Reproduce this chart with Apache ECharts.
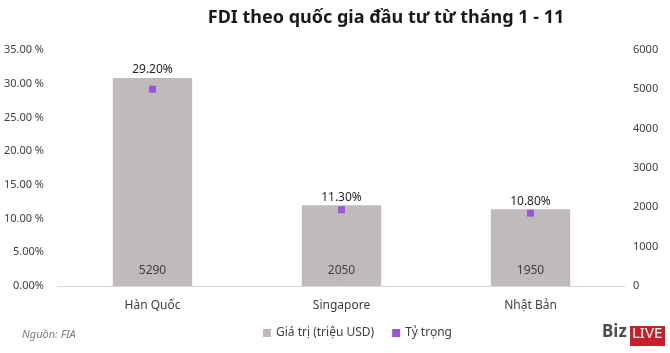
<!DOCTYPE html>
<html>
<head>
<meta charset="utf-8">
<script src="https://cdn.jsdelivr.net/npm/echarts@6/dist/echarts.min.js"></script>
<style>
  html, body { margin: 0; padding: 0; background: #fff; }
  #chart { width: 670px; height: 353px; }
</style>
</head>
<body>
<div id="chart"></div>
<script>
// dữ liệu
const countries = ['Hàn Quốc', 'Singapore', 'Nhật Bản'];
const values = [5290, 2050, 1950];          // Giá trị (triệu USD)
const shares = [29.2, 11.3, 10.8];          // Tỷ trọng (%)
const shareLabels = ['29.20%', '11.30%', '10.80%'];
const pctTicks = ['0.00%', '5.00%', '10.00 %', '15.00 %', '20.00 %', '25.00 %', '30.00 %', '35.00 %'];

const font = 'Noto Sans';
const chart = echarts.init(document.getElementById('chart'));
chart.setOption({
  textStyle: { fontFamily: font },
  title: {
    text: 'FDI theo quốc gia đầu tư từ tháng 1 - 11',
    left: 381,
    textAlign: 'center',
    top: 4,
    textStyle: { fontSize: 18, fontWeight: 'bold', color: '#1a1a1a', fontFamily: font }
  },
  grid: { left: 58, right: 45, top: 50, bottom: 67 },
  legend: {
    data: ['Giá trị (triệu USD)', 'Tỷ trọng'],
    bottom: 9,
    left: 258,
    itemWidth: 8,
    itemHeight: 8,
    itemGap: 18,
    icon: 'rect',
    textStyle: { fontSize: 12, color: '#404040', fontFamily: font }
  },
  xAxis: {
    type: 'category',
    data: countries,
    axisTick: { show: false },
    axisLine: { lineStyle: { color: '#d9d9d9' } },
    axisLabel: { color: '#404040', fontSize: 12, margin: 14 }
  },
  yAxis: [
    {
      type: 'value',
      min: 0, max: 35, interval: 5,
      splitLine: { show: false },
      axisLabel: {
        color: '#404040', fontSize: 11, margin: 14,
        formatter: (v) => pctTicks[Math.round(v / 5)]
      }
    },
    {
      type: 'value',
      min: 0, max: 6000, interval: 1000,
      splitLine: { show: false },
      axisLabel: { color: '#404040', fontSize: 11, margin: 8, formatter: (v) => String(v) }
    }
  ],
  series: [
    {
      name: 'Giá trị (triệu USD)',
      type: 'bar',
      yAxisIndex: 1,
      data: values,
      barWidth: '42%',
      itemStyle: { color: '#c0baba' },
      label: {
        show: true, position: 'top', distance: 2,
        color: '#262626', fontSize: 12,
        formatter: (p) => shareLabels[p.dataIndex]
      }
    },
    {
      name: 'value-label',
      type: 'bar',
      yAxisIndex: 1,
      data: values,
      barWidth: '42%',
      barGap: '-100%',
      itemStyle: { color: 'rgba(0,0,0,0)' },
      label: {
        show: true, position: 'insideBottom', distance: 9,
        color: '#404040', fontSize: 12
      }
    },
    {
      name: 'Tỷ trọng',
      type: 'line',
      yAxisIndex: 0,
      data: shares,
      symbol: 'rect',
      symbolSize: 7,
      lineStyle: { opacity: 0 },
      itemStyle: { color: '#9b55d6' }
    }
  ],
  graphic: [
    {
      type: 'text', left: 22, top: 329,
      style: { text: 'Nguồn: FIA', fontSize: 11, fontStyle: 'italic', fill: '#7f7f7f', fontFamily: font }
    },
    {
      type: 'text', left: 602, top: 324,
      style: { text: 'Biz', fontSize: 17, fontWeight: 'bold', fill: '#4d4d4d', fontFamily: font }
    },
    {
      type: 'rect', shape: { x: 630, y: 326, width: 35, height: 20 },
      style: { fill: '#c8202a' }
    },
    {
      type: 'text', left: 632, top: 326,
      style: { text: 'LIVE', fontSize: 15, fill: '#ffffff', fontFamily: font }
    }
  ]
});
</script>
</body>
</html>
